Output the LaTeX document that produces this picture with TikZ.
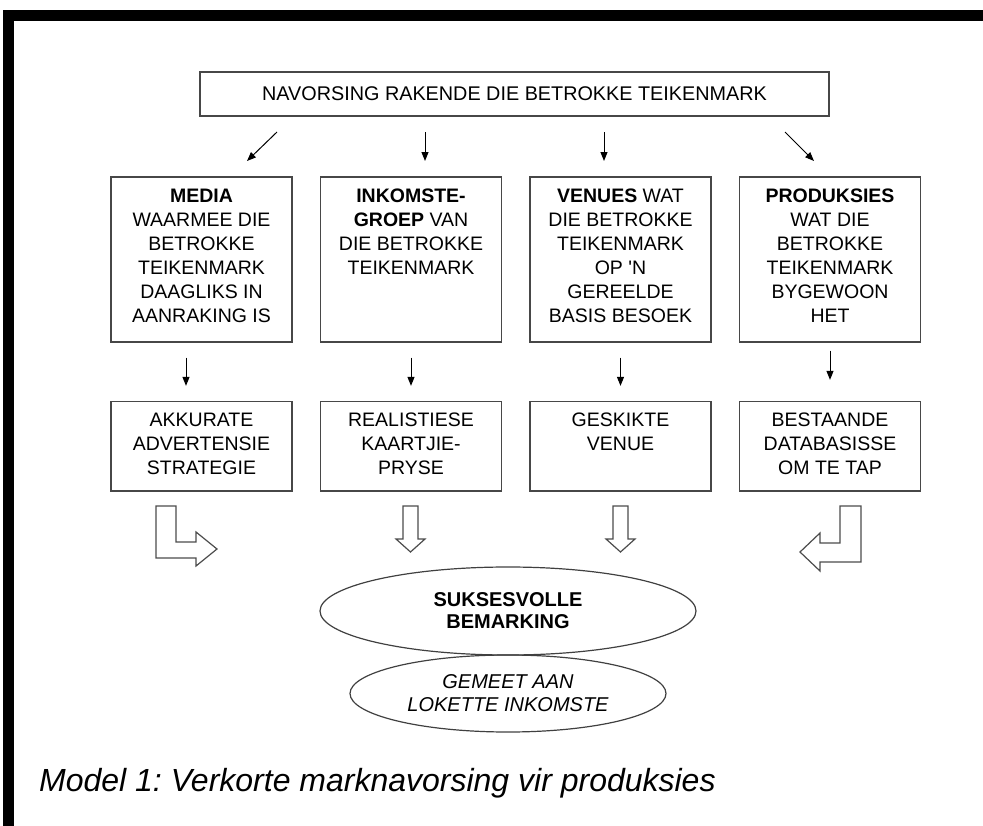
\documentclass[tikz,border=0pt]{standalone}
\usepackage{fontspec}
\setmainfont{Liberation Sans}[Ligatures=TeXOff]
\frenchspacing
\usetikzlibrary{arrows.meta,shapes.geometric}
\newcommand\mybx[3]{\parbox[c][#1][t]{#2}{\centering\rule{0pt}{25bp}#3\par}}
\tikzset{
  ubox/.style={draw=black!72, line width=1.3bp, inner sep=0pt, font=\fontsize{19.5bp}{24bp}\selectfont},
  topbox/.style={draw=black!72, line width=1.3bp, inner sep=0pt, minimum width=629bp, minimum height=44bp, font=\fontsize{19.8bp}{24bp}\selectfont},
  arr/.style={draw=black, line width=1bp, -{Triangle[length=9bp,width=7bp]}},
  barrow/.style={draw=black!70, line width=1.2bp, line join=miter},
  ell/.style={draw=black!75, line width=1.2bp, ellipse, inner sep=0pt, align=center},
}
\begin{document}
\begin{tikzpicture}[x=1bp, y=-1bp]
\useasboundingbox (0,0) rectangle (983,826);
% page frame
\fill[black] (3,10) rectangle (983,21);
\fill[black] (3,10) rectangle (14,826);
% top box
\node[topbox] (top) at (514.5,94) {NAVORSING RAKENDE DIE BETROKKE TEIKENMARK};
% upper boxes
\node[ubox] (b1) at (201.5,259.5) {\mybx{165bp}{181bp}{\textbf{MEDIA}\\WAARMEE DIE\\BETROKKE\\TEIKENMARK\\DAAGLIKS IN\\AANRAKING IS}};
\node[ubox] (b2) at (411,259.5) {\mybx{165bp}{181bp}{\textbf{INKOMSTE-}\\\textbf{GROEP} VAN\\DIE BETROKKE\\TEIKENMARK}};
\node[ubox] (b3) at (620.5,259.5) {\mybx{165bp}{181bp}{\textbf{VENUES} WAT\\DIE BETROKKE\\TEIKENMARK\\OP 'N\\GEREELDE\\BASIS BESOEK}};
\node[ubox] (b4) at (830,259.5) {\mybx{165bp}{181bp}{\textbf{PRODUKSIES}\\WAT DIE\\BETROKKE\\TEIKENMARK\\BYGEWOON\\HET}};
% lower boxes
\node[ubox] (l1) at (201.5,446.25) {\mybx{89.5bp}{181bp}{AKKURATE\\ADVERTENSIE\\STRATEGIE}};
\node[ubox] (l2) at (411,446.25) {\mybx{89.5bp}{181bp}{REALISTIESE\\KAARTJIE-\\PRYSE}};
\node[ubox] (l3) at (620.5,446.25) {\mybx{89.5bp}{181bp}{GESKIKTE\\VENUE}};
\node[ubox] (l4) at (830,446.25) {\mybx{89.5bp}{181bp}{BESTAANDE\\DATABASISSE\\OM TE TAP}};
% arrows from top box
\coordinate (t1a) at (277,132); \coordinate (t1b) at (247,161);
\coordinate (t2a) at (425,132); \coordinate (t2b) at (425,161);
\coordinate (t3a) at (604,132); \coordinate (t3b) at (604,161);
\coordinate (t4a) at (785,132); \coordinate (t4b) at (814,161);
\draw[arr] (t1a) -- (t1b);
\draw[arr] (t2a) -- (t2b);
\draw[arr] (t3a) -- (t3b);
\draw[arr] (t4a) -- (t4b);
% arrows upper -> lower
\draw[arr, shorten <=15bp, shorten >=15bp] ([xshift=-15.5bp]b1.south) -- ([xshift=-15.5bp]l1.north);
\draw[arr, shorten <=15bp, shorten >=15bp] (b2.south) -- (l2.north);
\draw[arr, shorten <=15bp, shorten >=15bp] (b3.south) -- (l3.north);
\draw[arr, shorten <=8bp, shorten >=21bp] (b4.south) -- (l4.north);
% block arrows
\draw[barrow] (156,506) -- (176,506) -- (176,542) -- (196,542) -- (196,532) -- (217,549) -- (196,566) -- (196,558) -- (156,558) -- cycle;
\draw[barrow] (403,506) -- (418,506) -- (418,539) -- (425,539) -- (410.5,552) -- (396,539) -- (403,539) -- cycle;
\draw[barrow] (613,506) -- (628,506) -- (628,539) -- (635,539) -- (620.5,552) -- (606,539) -- (613,539) -- cycle;
\draw[barrow] (861,506) -- (840,506) -- (840,543) -- (820,543) -- (820,533) -- (800,552) -- (820,571) -- (820,562) -- (861,562) -- cycle;
% ellipses
\node[ell, minimum width=376bp, minimum height=88bp, font=\fontsize{20bp}{22bp}\selectfont\bfseries] (e1) at (508,611) {SUKSESVOLLE\\BEMARKING};
\node[ell, minimum width=316bp, minimum height=77bp, font=\fontsize{20bp}{23bp}\selectfont\itshape] (e2) at (508,693.5) {GEMEET AAN\\LOKETTE INKOMSTE};
% caption
\node[anchor=base west, inner sep=0pt, font=\fontsize{32bp}{36bp}\selectfont\itshape] (cap) at (39,791) {Model 1: Verkorte marknavorsing vir produksies};
\end{tikzpicture}
\end{document}
